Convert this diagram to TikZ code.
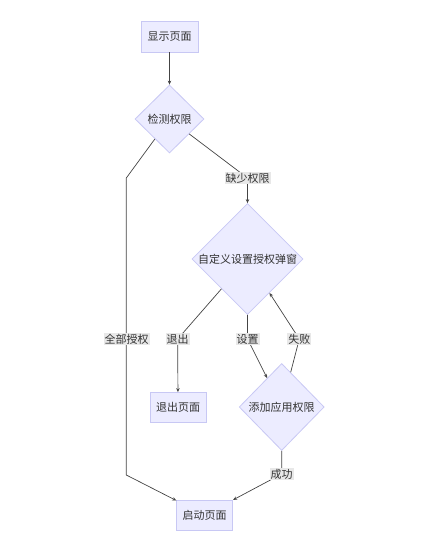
\documentclass[tikz,border=0pt]{standalone}
\usepackage{fontspec}
\newfontfamily\cjk{Noto Sans CJK SC}
\usetikzlibrary{shapes.geometric,arrows.meta}
\definecolor{nodefill}{HTML}{ECECFF}
\definecolor{nodeline}{HTML}{C8C8F4}
\definecolor{edgecol}{HTML}{444444}
\definecolor{txt}{HTML}{333333}
\definecolor{lblbg}{HTML}{E8E8E8}
\tikzset{
  x=1pt, y=1pt,
  every node/.style={font=\cjk\fontsize{11}{13}\selectfont, text=txt},
  procbox/.style={draw=nodeline, fill=nodefill, line width=0.8pt, minimum width=57pt, minimum height=31pt, inner sep=0pt},
  decision/.style={diamond, draw=nodeline, fill=nodefill, line width=0.8pt, inner sep=0pt, aspect=1},
  edge/.style={draw=edgecol, line width=0.7pt},
  arrowedge/.style={edge, -{Stealth[length=4pt,width=3.5pt]}},
  elabel/.style={fill=lblbg, inner sep=1pt}
}
\begin{document}
\begin{tikzpicture}
\useasboundingbox (0,0) rectangle (432,-550);
% nodes
\node[procbox] (show) at (169.5,-36.5) {显示页面};
\node[decision, minimum width=69pt, minimum height=68pt] (check) at (169.5,-119) {检测权限};
\node[decision, minimum width=111pt, minimum height=111pt] (custom) at (247.5,-259) {自定义设置授权弹窗};
\node[procbox, minimum width=56pt, minimum height=30pt] (exitp) at (178,-407.5) {退出页面};
\node[decision, minimum width=85pt, minimum height=87pt] (add) at (281.7,-407) {添加应用权限};
\node[procbox, minimum width=56pt, minimum height=30pt] (start) at (204.7,-515) {启动页面};
% bend points
\coordinate (allA) at (126.3,-178);
\coordinate (allB) at (126.3,-475);
\coordinate (missB) at (247.5,-178);
\coordinate (exitB) at (177.7,-339);
\coordinate (setB) at (247.5,-339);
\coordinate (failB) at (299.3,-339);
\coordinate (succB) at (281.7,-474);
% edges
\draw[arrowedge] (show) -- (check);
\draw[arrowedge] (check) -- (allA) -- (allB) -- (start);
\draw[arrowedge] (check) -- (missB) -- (custom);
\draw[arrowedge] (custom) -- (exitB) -- (exitp);
\draw[arrowedge] (custom) -- (setB) -- (add);
\draw[arrowedge] (add) -- (failB) -- (custom);
\draw[arrowedge] (add) -- (succB) -- (start);
% edge labels
\node[elabel] (lall) at (126.7,-339) {全部授权};
\node[elabel] (lmiss) at (missB) {缺少权限};
\node[elabel] (lexit) at (exitB) {退出};
\node[elabel] (lset) at (setB) {设置};
\node[elabel] (lfail) at (failB) {失败};
\node[elabel] (lsucc) at (succB) {成功};
\end{tikzpicture}
\end{document}
